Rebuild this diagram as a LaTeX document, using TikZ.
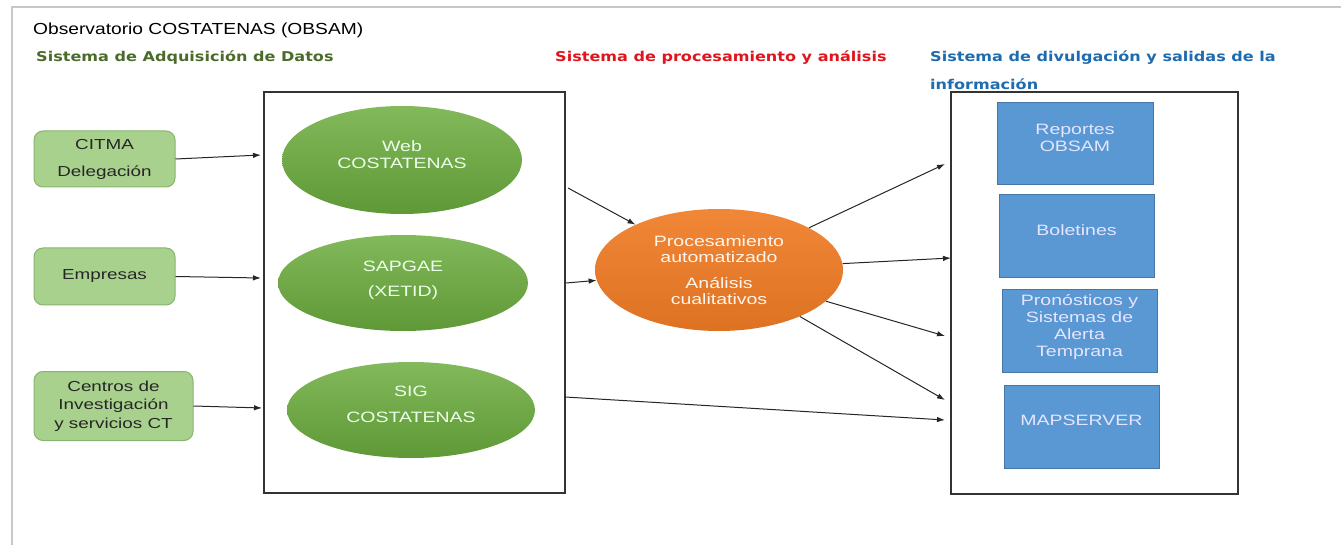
\documentclass[tikz,border=0pt]{standalone}
\usepackage{fontspec}
\setmainfont{Liberation Sans}
\newfontfamily\bodyfont{Liberation Sans}[FakeStretch=1.3]
\newfontfamily\titlefont{Liberation Sans}[FakeStretch=1.2]
\newfontfamily\headfont{DejaVu Sans Bold}[FakeStretch=1.19]
\usetikzlibrary{shapes.geometric,arrows.meta}
\definecolor{headgreen}{HTML}{4B6B2A}
\definecolor{headred}{HTML}{E0141C}
\definecolor{headblue}{HTML}{1E6BAF}
\definecolor{srcfill}{HTML}{A9D18E}
\definecolor{srcdraw}{HTML}{86B46A}
\definecolor{ellgreen}{HTML}{6CAD3E}
\definecolor{ellorange}{HTML}{F07C26}
\definecolor{boxblue}{HTML}{5A98D4}
\definecolor{boxdraw}{HTML}{4675AA}
\definecolor{pagegray}{HTML}{C8C8C8}
\begin{document}
\begin{tikzpicture}[x=1pt,y=-1pt,
  heading/.style={anchor=west,inner sep=0,font=\headfont\fontsize{13.5}{15}\selectfont},
  plain/.style={anchor=west,inner sep=0,font=\titlefont\fontsize{16}{18}\selectfont},
  src/.style={draw=srcdraw,fill=srcfill,rounded corners=9pt,line width=1pt,align=center,
    inner sep=0,text=black!85,font=\bodyfont\fontsize{14.5}{18.5}\selectfont},
  greenell/.style={ellipse,inner sep=0,top color=ellgreen!85!white,bottom color=ellgreen!88!black},
  oval/.style={ellipse,inner sep=0,top color=ellorange!92!white,bottom color=ellorange!92!black,
    align=center,text=white!92!orange,font=\bodyfont\fontsize{15}{16.5}\selectfont},
  elltext/.style={inner sep=0,text=white!92!green,font=\bodyfont\fontsize{15}{17}\selectfont},
  frame/.style={draw=black!80,line width=1.1pt,inner sep=0},
  outbox/.style={draw=boxdraw,fill=boxblue,line width=0.8pt,inner sep=0},
  boxtext/.style={inner sep=0,align=center,text=white!90!blue,font=\bodyfont\fontsize{15}{17}\selectfont},
  arr/.style={-{Latex[length=8pt,width=5.5pt]},line width=1pt,draw=black!85}]
\useasboundingbox (0,0) rectangle (1341,545);
% page edge
\draw[pagegray,line width=1.2pt] (12,545) -- (12,7) -- (1341,7);
% titles
\node[plain] (title) at (33,30) {Observatorio COSTATENAS (OBSAM)};
\node[heading,text=headgreen] (h1) at (36,58) {Sistema de Adquisición de Datos};
\node[heading,text=headred] (h2) at (555,58) {Sistema de procesamiento y análisis};
\node[heading,text=headblue] (h3) at (930,58) {Sistema de divulgación y salidas de la};
\node[heading,text=headblue] (h3b) at (930,84) {información};
% frames
\node[frame,minimum width=301pt,minimum height=401pt] (f1) at (414.5,292.5) {};
\node[frame,minimum width=287pt,minimum height=402pt] (f3) at (1094.5,293) {};
% sources
\node[src,minimum width=141pt,minimum height=56pt,font=\bodyfont\fontsize{14.5}{27}\selectfont] (citma) at (104.5,159) {CITMA\\Delegación};
\node[src,minimum width=141pt,minimum height=57pt] (emp) at (104.5,276.5) {Empresas};
\node[src,minimum width=159pt,minimum height=69pt] (cen) at (113.5,406) {Centros de\\Investigación\\y servicios CT};
% green ellipses
\node[greenell,minimum width=240pt,minimum height=108pt] (web) at (402,160) {};
\node[elltext] (webA) at (402,146) {Web};
\node[elltext] (webB) at (402,163) {COSTATENAS};
\node[greenell,minimum width=250pt,minimum height=96pt] (sap) at (403,283) {};
\node[elltext] (sapA) at (403,266) {SAPGAE};
\node[elltext] (sapB) at (403,293) {(XETID)};
\node[greenell,minimum width=248pt,minimum height=96pt] (sig) at (411,410) {};
\node[elltext] (sigA) at (411,391) {SIG};
\node[elltext] (sigB) at (411,417) {COSTATENAS};
% orange
\node[oval,minimum width=248pt,minimum height=122pt] (proc) at (719,270)
  {Procesamiento\\automatizado\\[9pt]Análisis\\cualitativos};
% blue boxes
\node[outbox,minimum width=156pt,minimum height=82pt] (rep) at (1075,143) {};
\node[boxtext] (repT) at (1075,138) {Reportes\\OBSAM};
\node[outbox,minimum width=155pt,minimum height=83pt] (bol) at (1076.5,235.5) {};
\node[boxtext] (bolT) at (1076.5,230) {Boletines};
\node[outbox,minimum width=155pt,minimum height=83pt] (pro) at (1079.5,330.5) {};
\node[boxtext] (proT) at (1079.5,327.5) {Pronósticos y\\Sistemas de\\Alerta\\Temprana};
\node[outbox,minimum width=155pt,minimum height=83pt] (map) at (1081.5,426.5) {};
\node[boxtext] (mapT) at (1081.5,420) {MAPSERVER};
% connector coordinates
\coordinate (e1) at (261,155);
\coordinate (e2) at (261,278);
\coordinate (e3) at (262,408);
\coordinate (s1) at (568,188);
\coordinate (s2) at (566,283);
\coordinate (s3) at (565,397);
\coordinate (o1) at (945,164);
\coordinate (o2) at (951,258);
\coordinate (o3) at (945,336);
\coordinate (o4) at (945,400);
\coordinate (o5) at (945,420);
% connectors
\draw[arr] (citma.east) -- (e1);
\draw[arr] (emp.east) -- (e2);
\draw[arr] (cen.east) -- (e3);
\draw[arr] (s1) -- (proc);
\draw[arr] (s2) -- (proc);
\draw[arr] (proc) -- (o1);
\draw[arr] (proc) -- (o2);
\draw[arr] (proc) -- (o3);
\draw[arr] (proc) -- (o4);
\draw[arr] (s3) -- (o5);
\end{tikzpicture}
\end{document}
